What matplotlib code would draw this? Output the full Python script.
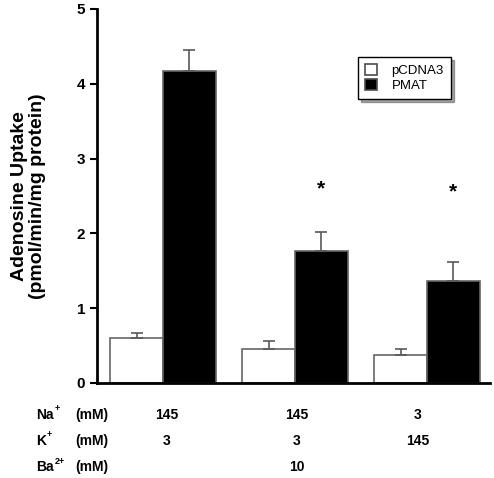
import numpy as np
import matplotlib
matplotlib.use("Agg")
import matplotlib.pyplot as plt

# values
groups = [0, 1, 2]
pcdna3 = [0.60, 0.45, 0.37]
pcdna3_err = [0.07, 0.11, 0.08]
pmat = [4.17, 1.76, 1.36]
pmat_err = [0.28, 0.26, 0.26]
star_groups = [1, 2]
star_y = [2.60, 2.56]

row_ions = ["Na", "K", "Ba"]
row_charges = ["+", "+", "2+"]
row_values = [["145", "145", "3"], ["3", "3", "145"], ["", "10", ""]]

plt.rcParams["font.family"] = ["Liberation Sans", "DejaVu Sans"]

W, H = 494, 478
fig = plt.figure(figsize=(W / 100, H / 100), dpi=100)
ax = fig.add_axes([97 / W, 1 - 383 / H, 393 / W, 374 / H])

x = np.array(groups, float)
bw = 0.40
ekw = dict(ecolor="0.35", elinewidth=1.2, capsize=4, capthick=1.2)
ax.bar(x - bw / 2, pcdna3, bw, color="white", edgecolor="0.4", lw=1.2,
       yerr=[np.zeros(3), pcdna3_err], error_kw=ekw, label="pCDNA3", zorder=2)
ax.bar(x + bw / 2, pmat, bw, color="black", edgecolor="0.4", lw=1.2,
       yerr=[np.zeros(3), pmat_err], error_kw=ekw, label="PMAT", zorder=2)
for g, sy in zip(star_groups, star_y):
    ax.text(g + bw / 2, sy, "*", ha="center", va="center", fontsize=15, fontweight="bold")

ax.set_xlim(-0.5, 2.477)
ax.set_ylim(0, 5)
ax.set_yticks(range(6))
ax.set_xticks([])
for s in ["top", "right"]:
    ax.spines[s].set_visible(False)
for s in ["left", "bottom"]:
    ax.spines[s].set_linewidth(2)
ax.tick_params(axis="y", direction="out", length=5, width=1.5, labelsize=11)
for t in ax.get_yticklabels():
    t.set_fontweight("bold")
ax.set_ylabel("Adenosine Uptake\n(pmol/min/mg protein)", fontsize=14, fontweight="bold",
              linespacing=1.1)
ax.yaxis.set_label_coords(-0.13, 0.5)

leg = ax.legend(loc="upper left", bbox_to_anchor=(0.664, 0.872), fancybox=False, shadow=True,
                edgecolor="black", fontsize=9.5, handlelength=0.9, handleheight=0.9,
                borderpad=0.55, labelspacing=0.15, handletextpad=1.1, borderaxespad=0)
leg.get_frame().set_linewidth(1.0)
for p in leg.get_patches():
    p.set_edgecolor("0.3")

# condition table below the axis
row_y = [415, 441, 467]
val_x = [167, 297, 418]
for ion, chg, vals, ry in zip(row_ions, row_charges, row_values, row_y):
    yf = 1 - ry / H
    t = fig.text(36 / W, yf, ion, ha="left", va="center", fontsize=10, fontweight="bold")
    fig.canvas.draw()
    bb = t.get_window_extent()
    fig.text((bb.x1 + 1) / W, yf + 6 / H, chg, ha="left", va="center", fontsize=6.5,
             fontweight="bold")
    fig.text(75 / W, yf, "(mM)", ha="left", va="center", fontsize=10, fontweight="bold")
    for v, vx in zip(vals, val_x):
        fig.text(vx / W, yf, v, ha="center", va="center", fontsize=10, fontweight="bold")

fig.savefig("out.png", dpi=100)
